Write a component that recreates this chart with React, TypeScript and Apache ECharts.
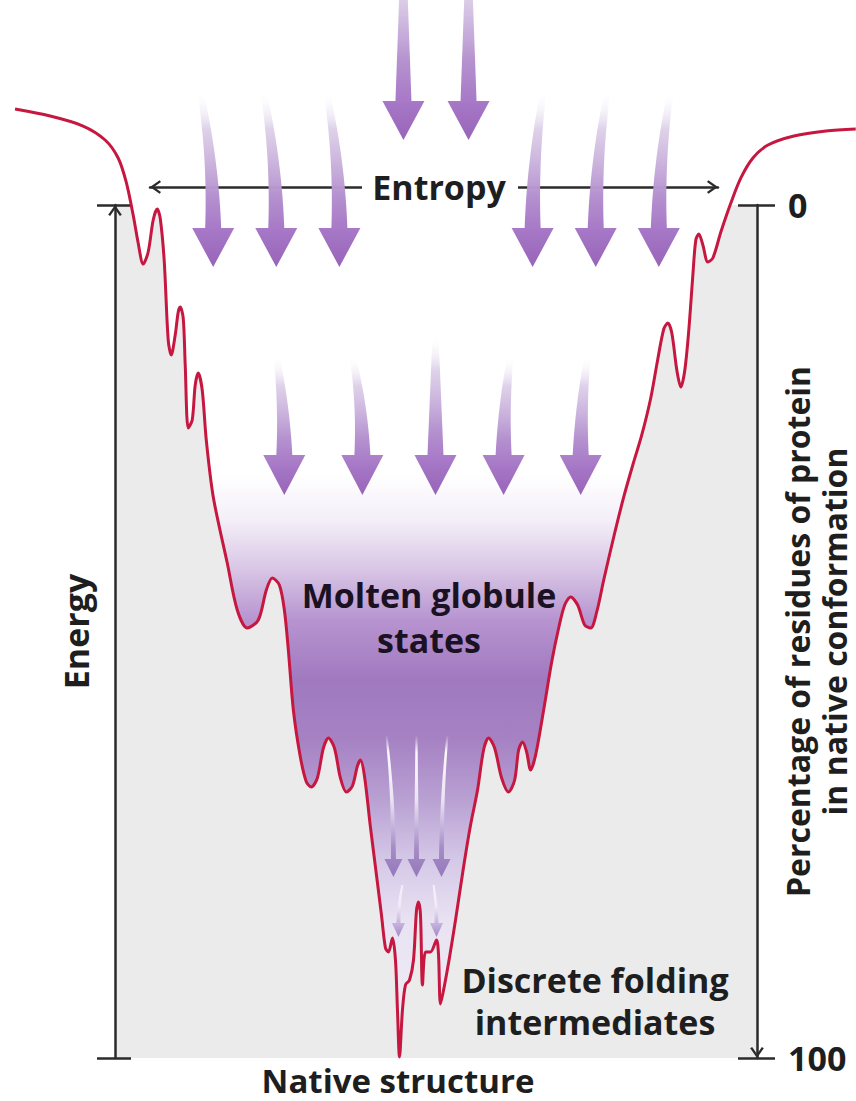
import React, { useEffect, useRef } from 'react';
import * as echarts from 'echarts';

// Energy landscape (x: conformational width, 0-100 between the two axes; y: % residues in native conformation, 0 top .. 100 bottom)
const landscape: [number, number][] = [
  [-15.6, -11.25], [-10.14, -10.43], [-4.99, -9.26], [-1.56, -7.62], [0.47, -5.51], [1.72, -2.7],
  [2.81, 1.17], [3.59, 4.45], [4.37, 6.92], [5.15, 5.51], [5.93, 1.76], [6.55, 0.47], [7.02, 1.52],
  [7.64, 6.45], [8.27, 15.83], [8.74, 17.58], [9.36, 15.24], [9.83, 12.54], [10.14, 11.96],
  [10.61, 13.25], [10.92, 18.76], [11.39, 26.14], [12.01, 25.21], [12.48, 21.1], [12.95, 19.7],
  [13.57, 21.69], [14.2, 27.55], [15.29, 34.23], [17.47, 41.97], [19.03, 47.48], [20.59, 49.59],
  [22.31, 48.65], [23.56, 45.13], [24.49, 43.73], [25.59, 44.55], [26.37, 47.48], [26.99, 52.17],
  [27.77, 59.2], [28.86, 64.71], [29.8, 67.64], [30.58, 68.23], [31.51, 67.17], [32.45, 63.66],
  [33.23, 62.49], [34.17, 63.66], [35.1, 67.17], [36.04, 68.82], [36.97, 68.11], [37.75, 65.77],
  [38.22, 65.06], [38.85, 66.94], [39.78, 72.92], [40.72, 78.55], [41.5, 83.24], [42.12, 87.1],
  [42.59, 87.57], [43.21, 85.93], [43.68, 88.51], [43.99, 94.37], [44.31, 99.88], [44.77, 94.37],
  [45.24, 91.44], [45.87, 90.86], [46.49, 88.51], [46.96, 82.65], [47.27, 81.71], [47.58, 83.24],
  [47.89, 91.44], [48.36, 87.57], [49.14, 87.57], [50.08, 86.17], [50.39, 87.92], [50.7, 93.67],
  [51.33, 91.44], [52.11, 88.16], [53.04, 83.82], [54.29, 77.61], [55.38, 72.69], [56.47, 68.58],
  [57.41, 63.89], [58.19, 62.49], [59.13, 63.66], [60.22, 67.17], [61.31, 68.82], [62.25, 67.41],
  [62.87, 63.89], [63.49, 62.95], [64.12, 64.13], [64.74, 66.24], [65.52, 64.48], [66.77, 59.2],
  [68.02, 53.58], [69.11, 49.59], [70.05, 46.89], [70.98, 45.96], [72.07, 46.89], [73.17, 49.24],
  [74.1, 49.59], [75.04, 47.71], [76.13, 43.96], [77.69, 38.92], [79.25, 34.23], [80.66, 30.48],
  [82.06, 26.96], [83.46, 22.63], [84.56, 18.05], [85.49, 14.54], [86.12, 13.83], [86.74, 15.0],
  [87.52, 19.34], [88.14, 21.34], [88.77, 19.34], [89.39, 14.65], [90.02, 8.21], [90.48, 4.1],
  [90.95, 3.4], [91.58, 4.69], [92.36, 6.68], [93.14, 6.21], [94.38, 3.17], [95.94, -0.23],
  [97.5, -3.17], [99.38, -5.51], [101.72, -7.03], [105.77, -8.09], [110.76, -8.68], [115.4, -8.91],
];

// Arrows: [tailX, tailY, tipX, tipY]
const rimArrows = [
  [44.93, -28.5, 44.93, -7.62],
  [55.07, -28.5, 55.07, -7.62],
];
const upperArrows = [
  [13.26, -13.48, 15.29, 7.27],
  [23.09, -13.48, 25.12, 7.27],
  [32.92, -13.48, 34.95, 7.27],
  [66.77, -13.48, 65.05, 7.27],
  [76.75, -13.48, 74.88, 7.27],
  [86.58, -13.48, 84.71, 7.27],
];
const middleArrows = [
  [25.12, 17.58, 26.37, 34.0],
  [36.97, 17.58, 38.53, 34.0],
  [49.92, 15.24, 49.92, 34.0],
  [61.62, 17.58, 60.53, 34.0],
  [73.63, 17.58, 72.54, 34.0],
];
const funnelArrows = [
  [42.28, 62.13, 43.37, 78.78],
  [46.96, 62.13, 46.96, 78.78],
  [51.79, 62.13, 50.86, 78.78],
];
const coreArrows = [
  [44.77, 79.72, 44.15, 85.81],
  [49.61, 79.72, 50.08, 85.81],
];

const percentRange = [0, 100];
const widthRange = [0, 100];
// full-width extent of the landscape's horizontal scale (same units, reaching the page edges)
const landscapeXRange = [-17.94, 115.44];

const FONT = 'Open Sans';
const INK = '#1e1e1e';
const AXIS = '#2b2b2b';
const CHEVRON = 'path://M0,8.5 L6,0 L12,8.5 L10.3,9.7 L6,3.5 L1.7,9.7 Z';

function arrowRenderer(headW: number, headL: number, w0: number, w1: number, stops: any[]) {
  return (params: any, api: any) => {
    const t = api.coord([api.value(0), api.value(1)]);
    const p = api.coord([api.value(2), api.value(3)]);
    const bx = p[0];
    const by = p[1] - headL;
    const cx = bx;
    const cy = t[1] + (by - t[1]) * 0.5;
    const N = 18;
    const left: number[][] = [];
    const right: number[][] = [];
    for (let i = 0; i <= N; i++) {
      const s = i / N;
      const x = (1 - s) * (1 - s) * t[0] + 2 * (1 - s) * s * cx + s * s * bx;
      const y = (1 - s) * (1 - s) * t[1] + 2 * (1 - s) * s * cy + s * s * by;
      const w = w0 + (w1 - w0) * s;
      left.push([x - w / 2, y]);
      right.push([x + w / 2, y]);
    }
    const points = [
      ...left,
      [bx - headW / 2, by],
      [p[0], p[1]],
      [bx + headW / 2, by],
      ...right.reverse(),
    ];
    return {
      type: 'polygon',
      shape: { points },
      style: {
        fill: {
          type: 'linear', x: 0, y: t[1], x2: 0, y2: p[1], global: true,
          colorStops: stops,
        },
      },
    };
  };
}

const rimStops = [
  { offset: 0, color: 'rgba(225,212,236,0.35)' },
  { offset: 0.2, color: 'rgba(214,198,228,0.85)' },
  { offset: 0.55, color: '#b692cf' },
  { offset: 0.8, color: '#a677c6' },
  { offset: 1, color: '#9864b8' },
];
const bigStops = [
  { offset: 0, color: 'rgba(255,255,255,0)' },
  { offset: 0.22, color: 'rgba(214,198,228,0.8)' },
  { offset: 0.6, color: '#b591cf' },
  { offset: 0.8, color: '#a677c6' },
  { offset: 1, color: '#9864b8' },
];
const thinStops = [
  { offset: 0, color: 'rgba(255,255,255,0)' },
  { offset: 0.12, color: 'rgba(255,255,255,0.95)' },
  { offset: 0.45, color: 'rgba(238,232,246,0.95)' },
  { offset: 0.8, color: '#a58bc6' },
  { offset: 1, color: '#9579bb' },
];
const tinyStops = [
  { offset: 0, color: 'rgba(255,255,255,0.6)' },
  { offset: 0.4, color: 'rgba(240,234,248,0.95)' },
  { offset: 1, color: '#a388c6' },
];

function arrowSeries(data: number[][], render: any) {
  return {
    type: 'custom',
    xAxisIndex: 0,
    yAxisIndex: 0,
    clip: false,
    silent: true,
    z: 4,
    encode: { x: [0, 2], y: [1, 3] },
    data,
    renderItem: render,
  };
}

export default function App() {
  const ref = useRef<HTMLDivElement>(null);
  useEffect(() => {
    if (!ref.current) return;
    const chart = echarts.init(ref.current, null, { renderer: 'svg' });
    const funnelFill = new echarts.graphic.LinearGradient(0, 0, 0, 1101, [
      { offset: 0, color: '#ffffff' },
      { offset: 0.43, color: '#ffffff' },
      { offset: 0.472, color: '#f4eff8' },
      { offset: 0.518, color: '#d8c5e5' },
      { offset: 0.563, color: '#b794d0' },
      { offset: 0.618, color: '#a079bf' },
      { offset: 0.672, color: '#a682c3' },
      { offset: 0.727, color: '#b9a1d3' },
      { offset: 0.781, color: '#d5c8e7' },
      { offset: 0.836, color: '#e8e2f2' },
      { offset: 0.96, color: '#f3f0f7' },
    ], true);

    const tickStyle = { color: AXIS, width: 2.5 };
    const baseY = {
      type: 'value', min: percentRange[0], max: percentRange[1], interval: 100,
      splitLine: { show: false }, axisLabel: { show: false }, z: 3,
    };

    chart.setOption({
      animation: false,
      grid: [
        { left: 115, right: 99, top: 205, bottom: 43, show: true, backgroundColor: '#ebebec', borderWidth: 0, outerBoundsMode: 'none', containLabel: false },
        { left: 150, right: 138, top: 187, height: 20, outerBoundsMode: 'none', containLabel: false },
        { left: 0, right: 0, top: 205, bottom: 43, outerBoundsMode: 'none', containLabel: false },
      ],
      xAxis: [
        { type: 'value', min: widthRange[0], max: widthRange[1], show: false, gridIndex: 0 },
        {
          type: 'value', min: 0, max: 100, gridIndex: 1, position: 'top', z: 3,
          axisLine: {
            show: true, onZero: false, lineStyle: { color: AXIS, width: 2.5 },
            symbol: [CHEVRON, CHEVRON], symbolSize: [14, 11], symbolOffset: [5.5, -5.5],
          },
          axisTick: { show: false }, axisLabel: { show: false }, splitLine: { show: false },
        },
        { type: 'value', min: landscapeXRange[0], max: landscapeXRange[1], show: false, gridIndex: 2 },
      ],
      yAxis: [
        {
          ...baseY, gridIndex: 0, position: 'left', inverse: true,
          axisLine: { show: false, onZero: false },
          axisTick: { show: true, inside: false, length: 18, lineStyle: tickStyle },
          name: 'Energy', nameLocation: 'middle', nameRotate: 90, nameGap: 22, nameMoveOverlap: false,
          nameTextStyle: { fontFamily: FONT, fontWeight: 'bold', fontSize: 34, color: INK },
        },
        {
          ...baseY, gridIndex: 0, position: 'left',
          axisLine: {
            show: true, onZero: false, lineStyle: { color: AXIS, width: 2.5 },
            symbol: ['none', CHEVRON], symbolSize: [14, 11], symbolOffset: [0, -5.5],
          },
          axisTick: { show: true, inside: true, length: 16, lineStyle: tickStyle },
        },
        {
          ...baseY, gridIndex: 0, position: 'right', inverse: true,
          axisLine: { show: false, onZero: false },
          axisTick: { show: true, inside: false, length: 18, lineStyle: tickStyle },
          axisLabel: {
            show: true, margin: 31, showMinLabel: true, showMaxLabel: true,
            fontFamily: FONT, fontWeight: 'bold', fontSize: 34, color: INK,
          },
          name: 'Percentage of residues of protein\nin native conformation',
          nameLocation: 'middle', nameRotate: 90, nameGap: 22, nameMoveOverlap: false,
          nameTextStyle: { fontFamily: FONT, fontWeight: 'bold', fontSize: 32, color: INK, lineHeight: 37 },
        },
        {
          ...baseY, gridIndex: 0, position: 'right',
          axisLine: {
            show: true, onZero: false, lineStyle: { color: AXIS, width: 2.5 },
            symbol: [CHEVRON, 'none'], symbolSize: [14, 11], symbolOffset: [5.5, 0],
          },
          axisTick: { show: true, inside: true, length: 19, lineStyle: tickStyle },
        },
        { type: 'value', gridIndex: 1, show: false, min: 0, max: 1 },
        { type: 'value', gridIndex: 2, show: false, inverse: true, min: percentRange[0], max: percentRange[1] },
      ],
      graphic: [
        {
          type: 'rect', z: 8, silent: true,
          shape: { x: 362, y: 178, width: 156, height: 18 },
          style: { fill: '#ffffff' },
        },
        {
          type: 'text', x: 439, y: 187, z: 10,
          style: {
            text: 'Entropy', font: `bold 34px "${FONT}"`, fill: INK,
            align: 'center', verticalAlign: 'middle',
          },
        },
        {
          type: 'text', x: 429, y: 617, z: 10,
          style: {
            text: 'Molten globule\nstates', font: `bold 34px "${FONT}"`, fill: '#1a1222',
            align: 'center', verticalAlign: 'middle', lineHeight: 45,
          },
        },
        {
          type: 'text', x: 595, y: 1001, z: 10,
          style: {
            text: 'Discrete folding\nintermediates', font: `bold 34px "${FONT}"`, fill: INK,
            align: 'center', verticalAlign: 'middle', lineHeight: 42,
          },
        },
        {
          type: 'text', x: 398, y: 1080, z: 10,
          style: {
            text: 'Native structure', font: `bold 33px "${FONT}"`, fill: INK,
            align: 'center', verticalAlign: 'middle', lineHeight: 34,
          },
        },
      ],
      series: [
        {
          type: 'line', xAxisIndex: 2, yAxisIndex: 5, data: landscape, smooth: 0.3,
          symbol: 'none', clip: false, z: 1, silent: true,
          lineStyle: { width: 0, opacity: 0 },
          areaStyle: { origin: 'start', color: funnelFill, opacity: 1 },
        },
        arrowSeries(rimArrows, arrowRenderer(42, 39, 6, 16, rimStops)),
        arrowSeries(upperArrows, arrowRenderer(42, 39, 6, 16, bigStops)),
        arrowSeries(middleArrows, arrowRenderer(42, 40, 6, 16, bigStops)),
        arrowSeries(funnelArrows, arrowRenderer(18, 18, 2, 5, thinStops)),
        arrowSeries(coreArrows, arrowRenderer(13, 14, 2, 4, tinyStops)),
        {
          type: 'line', xAxisIndex: 2, yAxisIndex: 5, data: landscape, smooth: 0.3,
          symbol: 'none', clip: false, z: 5, silent: true,
          lineStyle: { color: '#c5173f', width: 3 },
        },
      ],
    });
    return () => chart.dispose();
  }, []);
  return (
    <div
      ref={ref}
      style={{ position: 'absolute', left: 0, top: 0, width: 856, height: 1101, background: '#ffffff' }}
    />
  );
}
